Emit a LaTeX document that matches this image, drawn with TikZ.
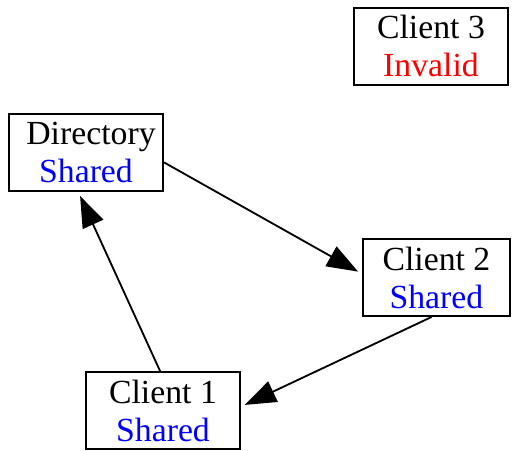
\documentclass[tikz,border=0pt]{standalone}
\usepackage{fontspec}
\setmainfont{Liberation Serif}
\usetikzlibrary{arrows.meta}
\begin{document}
\begin{tikzpicture}[
  cachebox/.style={draw, line width=1.4pt, minimum width=3.85cm, minimum height=1.92cm,
    align=center, font=\fontsize{24}{27}\selectfont},
  msg/.style={line width=1.3pt, -{Triangle[length=0.78cm,width=0.56cm]}, shorten >=3pt}]
\useasboundingbox (0,0) rectangle (12.9,11.25);
\node[cachebox] (c3) at (10.775,10.09) {Client 3\\\textcolor{red}{Invalid}};
\node[cachebox] (dir) at (2.15,7.43) {\hspace{0.25cm}Directory\\\textcolor{blue}{Shared}};
\node[cachebox, minimum width=3.68cm] (c2) at (10.91,4.31) {Client 2\\\textcolor{blue}{Shared}};
\node[cachebox] (c1) at (4.075,0.98) {Client 1\\\textcolor{blue}{Shared}};
\draw[msg] (dir.-7.4) -- (c2.177);
\draw[msg] (c2.263) -- (c1.3);
\draw[msg] (c1.94) -- (dir.259.7);
\end{tikzpicture}
\end{document}
